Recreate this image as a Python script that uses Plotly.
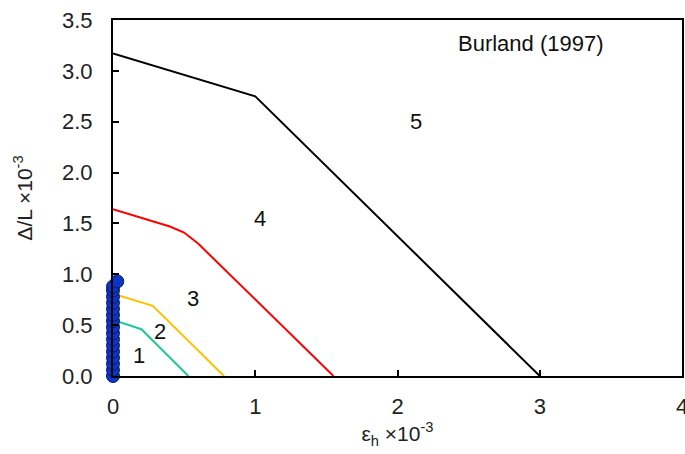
import plotly.graph_objects as go

# Burland (1997) category boundaries
x_cat5 = [0.0, 0.7, 1.0, 3.0]
y_cat5 = [3.17, 2.88, 2.75, 0.0]
x_cat4 = [0.0, 0.4, 0.5, 0.6, 1.55]
y_cat4 = [1.64, 1.47, 1.41, 1.30, 0.0]
x_cat3 = [0.0, 0.28, 0.78]
y_cat3 = [0.81, 0.69, 0.0]
x_cat2 = [0.0, 0.2, 0.53]
y_cat2 = [0.55, 0.46, 0.0]

# measured points
x_pts = [0.0] * 16 + [0.03]
y_pts = [0.0, 0.06, 0.12, 0.18, 0.24, 0.30, 0.36, 0.42, 0.48, 0.54, 0.60,
         0.66, 0.72, 0.78, 0.84, 0.88, 0.93]

label_text = ["1", "2", "3", "4", "5"]
label_x = [0.18, 0.33, 0.56, 1.03, 2.13]
label_y = [0.20, 0.44, 0.76, 1.55, 2.50]

FONT = "Liberation Sans, Arial"

fig = go.Figure()
fig.add_trace(go.Scatter(x=x_cat5, y=y_cat5, mode="lines", line=dict(color="black", width=2)))
fig.add_trace(go.Scatter(x=x_cat4, y=y_cat4, mode="lines", line=dict(color="#ff0000", width=2)))
fig.add_trace(go.Scatter(x=x_cat3, y=y_cat3, mode="lines", line=dict(color="#ffc000", width=2)))
fig.add_trace(go.Scatter(x=x_cat2, y=y_cat2, mode="lines", line=dict(color="#1fc996", width=2)))
fig.add_trace(go.Scatter(x=x_pts, y=y_pts, mode="markers", cliponaxis=False,
                         marker=dict(size=13, color="#0a35c8", line=dict(color="#0a1a60", width=1))))

for t, lx, ly in zip(label_text, label_x, label_y):
    fig.add_annotation(x=lx, y=ly, text=t, showarrow=False,
                       font=dict(family=FONT, size=22, color="#111"))
fig.add_annotation(x=2.94, y=3.27, text="Burland (1997)", showarrow=False,
                   font=dict(family=FONT, size=22, color="#111"))

axis_common = dict(showline=True, linecolor="black", linewidth=2, mirror=True,
                   ticks="inside", ticklen=6, tickwidth=1.5, tickcolor="black",
                   showgrid=False, zeroline=False, ticklabeloverflow="allow",
                   automargin=False,
                   tickfont=dict(family=FONT, size=22, color="#222"))

fig.update_xaxes(range=[0, 4], dtick=1, ticklabelstandoff=10, **axis_common,
                 title=dict(text="ε<sub>h</sub> ×10<sup>-3</sup>", standoff=8,
                            font=dict(family=FONT, size=21, color="#222")))
fig.update_yaxes(range=[0, 3.5], dtick=0.5, tickformat=".1f", ticklabelstandoff=14,
                 **axis_common,
                 title=dict(text="Δ/L ×10<sup>-3</sup>", standoff=24,
                            font=dict(family=FONT, size=21, color="#222")))

fig.update_layout(width=685, height=454, showlegend=False,
                  margin=dict(l=113, r=3, t=20, b=78),
                  plot_bgcolor="white", paper_bgcolor="white",
                  font=dict(family=FONT))

fig.write_html("out.html")
